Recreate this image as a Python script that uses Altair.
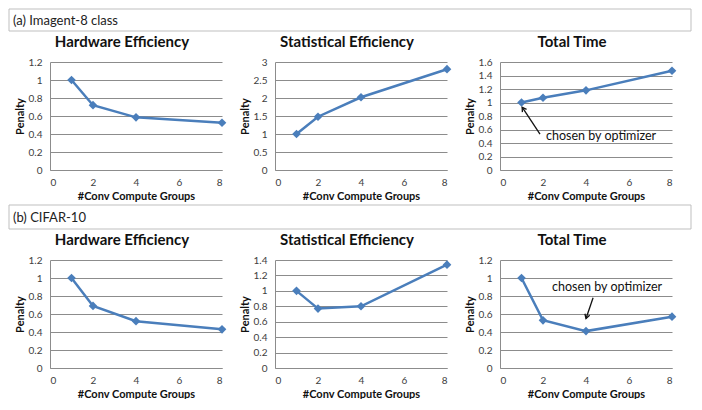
import altair as alt
import pandas as pd

# ---- data ----
groups = [1, 2, 4, 8]
imagenet_hw = [1.0, 0.72, 0.585, 0.525]
imagenet_stat = [1.0, 1.48, 2.02, 2.8]
imagenet_total = [1.0, 1.07, 1.18, 1.47]
cifar_hw = [1.0, 0.69, 0.52, 0.43]
cifar_stat = [1.0, 0.77, 0.80, 1.34]
cifar_total = [1.0, 0.53, 0.41, 0.57]

panel_titles = ["Hardware Efficiency", "Statistical Efficiency", "Total Time"]
header_labels = ["(a) Imagent-8 class", "(b) CIFAR-10"]
x_ticks = [0, 2, 4, 6, 8]
y_ticks_12 = [0, 0.2, 0.4, 0.6, 0.8, 1, 1.2]
y_ticks_14 = [0, 0.2, 0.4, 0.6, 0.8, 1, 1.2, 1.4]
y_ticks_16 = [0, 0.2, 0.4, 0.6, 0.8, 1, 1.2, 1.4, 1.6]
y_ticks_30 = [0, 0.5, 1, 1.5, 2, 2.5, 3]

note_text = "chosen by optimizer"
# annotation: text anchor (x, y), arrow from (x, y) to (x2, y2), in data units
note_a = {"tx": 2.14, "ty": 0.51, "ax": 1.86, "ay": 0.53, "ax2": 1.03, "ay2": 0.93, "angle": 326}
note_b = {"tx": 2.42, "ty": 0.90, "ax": 4.33, "ay": 0.78, "ax2": 4.0, "ay2": 0.55, "angle": 198}

FONT = "Lato"
BLUE = "#4A7EBB"
GRID = "#8c8c8c"
PW, PH = 172, 108
LEFT_EXT = 41


def panel(values, title, ticks, note=None):
    df = pd.DataFrame({"groups": groups, "penalty": values})
    xs = alt.Scale(domain=[0, 8], nice=False)
    ys = alt.Scale(domain=[0, ticks[-1]], nice=False)
    xa = alt.Axis(values=x_ticks, title="#Conv Compute Groups", grid=False,
                  ticks=False, domainColor=GRID, labelPadding=7, titlePadding=3)
    ya = alt.Axis(values=ticks, format="~g", title="Penalty", grid=True,
                  gridColor=GRID, ticks=False, domainColor=GRID,
                  labelPadding=8, titlePadding=3)

    def X(f):
        return alt.X(f, scale=xs, axis=xa)

    def Y(f):
        return alt.Y(f, scale=ys, axis=ya)

    line = alt.Chart(df).mark_line(color=BLUE, strokeWidth=2.5).encode(
        x=X("groups:Q"), y=Y("penalty:Q"))
    pts = alt.Chart(df).mark_point(shape="diamond", filled=True, size=75,
                                   color=BLUE, opacity=1).encode(
        x=X("groups:Q"), y=Y("penalty:Q"))
    layers = [line, pts]
    if note is not None:
        nd = pd.DataFrame([{**note, "label": note_text}])
        txt = alt.Chart(nd).mark_text(align="left", baseline="middle", fontSize=12.5,
                                      font=FONT, color="#111").encode(
            x=X("tx:Q"), y=Y("ty:Q"), text="label:N")
        rule = alt.Chart(nd).mark_rule(color="#111", strokeWidth=1.3).encode(
            x=X("ax:Q"), y=Y("ay:Q"), x2="ax2:Q", y2="ay2:Q")
        head = alt.Chart(nd).mark_point(shape="M-0.6,1L0,0L0.6,1", filled=False,
                                        size=70, color="#111", strokeWidth=1.3,
                                        opacity=1).encode(
            x=X("ax2:Q"), y=Y("ay2:Q"), angle=alt.Angle("angle:Q", scale=None))
        layers += [rule, head, txt]
    return alt.layer(*layers).properties(
        width=PW, height=PH,
        title=alt.TitleParams(title, fontSize=15, font=FONT, fontWeight="bold",
                              color="#111", offset=7, dx=-14))


def header(label, h):
    d = pd.DataFrame({"label": [label]})
    box = alt.Chart(d).mark_rect(fill="white", stroke="#bfbfbf", strokeWidth=1).encode(
        x=alt.value(-LEFT_EXT), x2=alt.value(641), y=alt.value(0), y2=alt.value(h))
    txt = alt.Chart(d).mark_text(align="left", baseline="middle", fontSize=13,
                                 font=FONT, color="#222").encode(
        text="label:N", x=alt.value(-LEFT_EXT + 4), y=alt.value(h / 2 + 1))
    return alt.layer(box, txt).properties(width=600, height=h)


row_a = alt.hconcat(
    panel(imagenet_hw, panel_titles[0], y_ticks_12),
    panel(imagenet_stat, panel_titles[1], y_ticks_30),
    panel(imagenet_total, panel_titles[2], y_ticks_16, note_a),
    spacing=12)
row_b = alt.hconcat(
    panel(cifar_hw, panel_titles[0], y_ticks_12),
    panel(cifar_stat, panel_titles[1], y_ticks_14),
    panel(cifar_total, panel_titles[2], y_ticks_12, note_b),
    spacing=12)

chart = alt.concat(header(header_labels[0], 22), row_a, header(header_labels[1], 24), row_b,
                   columns=1, align="none", spacing=3, padding=0
                   ).configure_view(stroke=None).configure_axis(
    labelFont=FONT, labelFontSize=10, labelColor="#404040",
    titleFont=FONT, titleFontSize=11, titleFontWeight="bold", titleColor="#111")

chart.save("out.html", embed_options={"renderer": "svg", "actions": False})
